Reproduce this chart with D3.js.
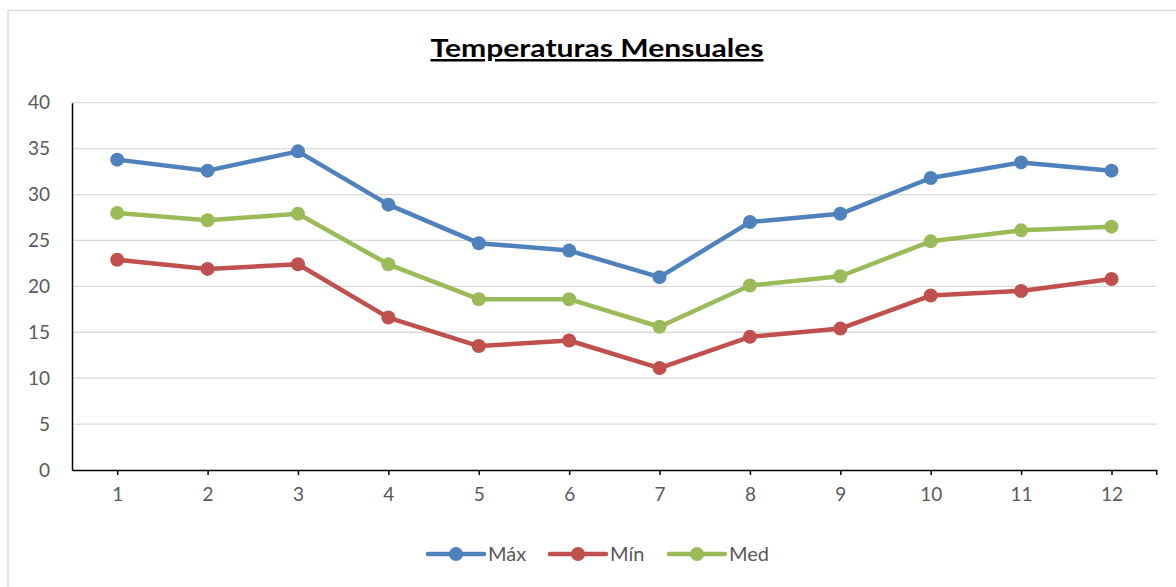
<!DOCTYPE html>
<html><head><meta charset="utf-8">
<script src="https://cdn.jsdelivr.net/npm/d3@7/dist/d3.min.js"></script>
<style>body{margin:0;background:#fff;}svg{display:block;}</style>
</head><body><svg id="c" width="1176" height="587"></svg>
<script>
const categories = ["1","2","3","4","5","6","7","8","9","10","11","12"];
const maxValues = [33.8, 32.6, 34.7, 28.9, 24.7, 23.9, 21.0, 27.0, 27.9, 31.8, 33.5, 32.6];
const minValues = [22.9, 21.9, 22.4, 16.6, 13.5, 14.1, 11.1, 14.5, 15.4, 19.0, 19.5, 20.8];
const medValues = [28.0, 27.2, 27.9, 22.4, 18.6, 18.6, 15.6, 20.1, 21.1, 24.9, 26.1, 26.5];
const yTicks = [0, 5, 10, 15, 20, 25, 30, 35, 40];
const seriesNames = ["Máx", "Mín", "Med"];
const seriesColors = ["#4f81bd", "#c0504d", "#9bbb59"];
const title = "Temperaturas Mensuales";

const series = [maxValues, minValues, medValues].map((v, i) => ({name: seriesNames[i], color: seriesColors[i], values: v}));

const svg = d3.select("#c");
const font = "Lato, 'Open Sans', sans-serif";
const L = 72, R = 1156.7, T = 102.7, B = 470;

// outer border
svg.append("rect").attr("x", 8).attr("y", 10.5).attr("width", 1200).attr("height", 600)
  .attr("fill", "none").attr("stroke", "#d9d9d9").attr("stroke-width", 1.3);

const x = d3.scalePoint().domain(categories).range([L, R]).padding(0.5);
const y = d3.scaleLinear().domain([0, 40]).range([B, T]);

// gridlines
svg.append("g").selectAll("line").data(yTicks.filter(d => d > 0)).join("line")
  .attr("x1", L).attr("x2", R).attr("y1", d => y(d)).attr("y2", d => y(d))
  .attr("stroke", "#d9d9d9").attr("stroke-width", 1.3);

// y axis
const yAxis = svg.append("g").attr("transform", `translate(${L},0)`)
  .call(d3.axisLeft(y).tickValues(yTicks).tickSize(0).tickPadding(22));
yAxis.select(".domain").attr("stroke", "#000").attr("stroke-width", 1.5);
yAxis.selectAll("text").attr("font-family", font).attr("font-size", 19).attr("fill", "#595959");

// x axis
const xAxis = svg.append("g").attr("transform", `translate(0,${B})`)
  .call(d3.axisBottom(x).tickSize(5).tickPadding(13).tickSizeOuter(0));
xAxis.select(".domain").attr("stroke", "#000").attr("stroke-width", 1.5);
xAxis.selectAll(".tick line").attr("stroke", "#000").attr("stroke-width", 1.5);
xAxis.selectAll("text").attr("font-family", font).attr("font-size", 19).attr("fill", "#595959");
xAxis.append("line").attr("x1", R).attr("x2", R).attr("y1", 0).attr("y2", 5).attr("stroke", "#000").attr("stroke-width", 1.5);

// lines
const line = d3.line().x((d, i) => x(categories[i])).y(d => y(d));
const g = svg.append("g");
series.forEach(s => {
  g.append("path").datum(s.values).attr("d", line).attr("fill", "none")
    .attr("stroke", s.color).attr("stroke-width", 4.5).attr("stroke-linejoin", "round").attr("stroke-linecap", "round");
  g.append("g").selectAll("circle").data(s.values).join("circle")
    .attr("cx", (d, i) => x(categories[i])).attr("cy", d => y(d)).attr("r", 7).attr("fill", s.color);
});

// title
svg.append("text").attr("x", 597).attr("y", 57).attr("text-anchor", "middle")
  .attr("font-family", "Lato, sans-serif").attr("font-weight", "bold").attr("font-size", 25)
  .attr("textLength", 333).attr("lengthAdjust", "spacingAndGlyphs")
  .attr("text-decoration", "underline").attr("fill", "#000").text(title);

// legend
const legendX = [428, 550, 669];
const lg = svg.append("g");
series.forEach((s, i) => {
  const lx = legendX[i], ly = 554;
  lg.append("line").attr("x1", lx).attr("x2", lx + 56).attr("y1", ly).attr("y2", ly)
    .attr("stroke", s.color).attr("stroke-width", 4.5).attr("stroke-linecap", "round");
  lg.append("circle").attr("cx", lx + 28).attr("cy", ly).attr("r", 7).attr("fill", s.color);
  lg.append("text").attr("x", lx + 60).attr("y", ly).attr("dy", "0.35em")
    .attr("font-family", font).attr("font-size", 20).attr("fill", "#595959").text(s.name);
});
</script></body></html>
